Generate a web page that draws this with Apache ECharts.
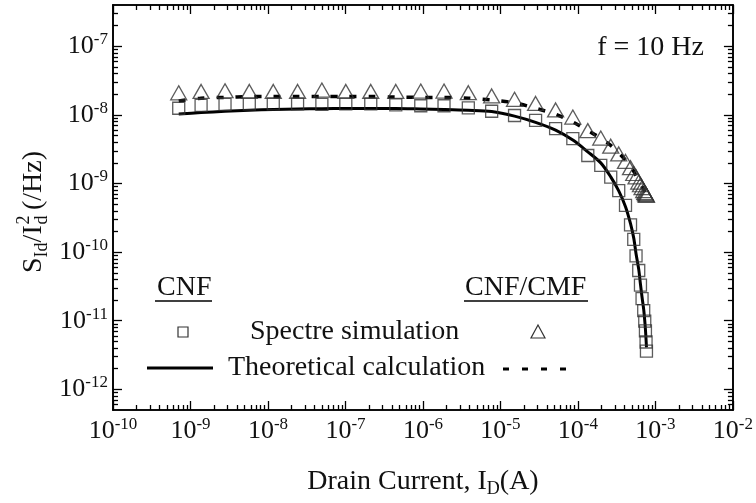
<!DOCTYPE html>
<html>
<head>
<meta charset="utf-8">
<script src="https://cdn.jsdelivr.net/npm/echarts@6/dist/echarts.min.js"></script>
<style>
html,body{margin:0;padding:0;background:#fff;}
#chart{width:756px;height:503px;}
</style>
</head>
<body>
<div id="chart"></div>
<script>
// ---- data ----
const drainCurrent = [7.05e-10, 1.37e-9, 2.79e-9, 5.74e-9, 1.17e-8, 2.41e-8, 4.96e-8, 1.01e-7, 2.12e-7, 4.46e-7,
  9.37e-7, 1.87e-6, 3.85e-6, 7.70e-6, 1.52e-5, 2.84e-5, 5.15e-5, 8.59e-5, 1.34e-4, 1.97e-4,
  2.65e-4, 3.36e-4, 4.11e-4, 4.77e-4, 5.25e-4, 5.62e-4, 6.09e-4, 6.41e-4, 6.72e-4, 7.06e-4,
  7.28e-4, 7.43e-4, 7.57e-4, 7.66e-4];
const cnfSpectre = [1.25e-8, 1.38e-8, 1.42e-8, 1.45e-8, 1.45e-8, 1.45e-8, 1.42e-8, 1.45e-8, 1.45e-8, 1.4e-8,
  1.36e-8, 1.36e-8, 1.27e-8, 1.13e-8, 9.8e-9, 8.3e-9, 6.3e-9, 4.5e-9, 2.56e-9, 1.84e-9,
  1.24e-9, 7.9e-10, 4.8e-10, 2.5e-10, 1.53e-10, 8.8e-11, 5.4e-11, 3.3e-11, 2.1e-11, 1.4e-11,
  9.9e-12, 7.1e-12, 4.9e-12, 3.6e-12];
const cnfTheory = [1.03e-8, 1.08e-8, 1.13e-8, 1.17e-8, 1.2e-8, 1.22e-8, 1.23e-8, 1.24e-8, 1.24e-8, 1.24e-8,
  1.22e-8, 1.2e-8, 1.17e-8, 1.12e-8, 9.6e-9, 7.8e-9, 6.0e-9, 4.3e-9, 2.9e-9, 2.0e-9,
  1.25e-9, 7.8e-10, 4.6e-10, 2.6e-10, 1.6e-10, 9.5e-11, 5.6e-11, 3.4e-11, 2.2e-11, 1.45e-11,
  1.0e-11, 7.5e-12, 5.3e-12, 4.1e-12];
const cmfSpectre = [2.1e-8, 2.2e-8, 2.25e-8, 2.2e-8, 2.2e-8, 2.2e-8, 2.3e-8, 2.2e-8, 2.2e-8, 2.2e-8,
  2.23e-8, 2.23e-8, 2.11e-8, 1.89e-8, 1.69e-8, 1.47e-8, 1.18e-8, 9.3e-9, 5.9e-9, 4.6e-9,
  3.5e-9, 2.7e-9, 2.1e-9, 1.7e-9, 1.4e-9, 1.25e-9, 1.05e-9, 9.6e-10, 8.7e-10, 7.9e-10,
  7.4e-10, 7.1e-10, 6.9e-10, 6.7e-10];
const cmfTheory = [1.6e-8, 1.75e-8, 1.8e-8, 1.85e-8, 1.85e-8, 1.85e-8, 1.85e-8, 1.85e-8, 1.85e-8, 1.82e-8,
  1.8e-8, 1.8e-8, 1.75e-8, 1.65e-8, 1.5e-8, 1.25e-8, 1.02e-8, 7.9e-9, 5.9e-9, 4.6e-9,
  3.6e-9, 2.8e-9, 2.2e-9, 1.8e-9, 1.5e-9, 1.3e-9, 1.1e-9, 1.0e-9, 9e-10, 8.2e-10,
  7.7e-10, 7.4e-10, 7.2e-10, 7.0e-10];
const xTickExponents = [-10, -9, -8, -7, -6, -5, -4, -3, -2];
const yTickExponents = [-12, -11, -10, -9, -8, -7];
const xRange = [1e-10, 1e-2];
const yRange = [5e-13, 4e-7];

// ---- helpers ----
const FONT = 'Liberation Serif';
const INK = '#111';
function majors(exps){ return exps.map(e => Math.pow(10, e)); }
function minors(lo, hi){
  const out = [];
  for (let d = Math.floor(Math.log10(lo)) ; d <= Math.ceil(Math.log10(hi)); d++){
    for (let m = 2; m <= 9; m++){
      const v = m * Math.pow(10, d);
      if (v > lo && v < hi) out.push(v);
    }
  }
  return out;
}
const xMaj = majors(xTickExponents), yMaj = majors(yTickExponents);
const xMin = minors(xRange[0], xRange[1]), yMin = minors(yRange[0], yRange[1]);
const labelRich = {
  b: {fontFamily: FONT, fontSize: 26, color: INK, lineHeight: 30},
  s: {fontFamily: FONT, fontSize: 17, color: INK, lineHeight: 14, verticalAlign: 'top'}
};
function powLabel(v){ return '{b|10}{s|' + Math.round(Math.log10(v)) + '}'; }
const axisLine = {show: true, onZero: false, lineStyle: {color: '#000', width: 1.6}};

function xAx(pos, major){
  return {
    type: 'log', logBase: 10, min: xRange[0], max: xRange[1], position: pos,
    axisLine: axisLine,
    splitLine: {show: false},
    axisTick: {show: true, inside: true, length: major ? 9 : 5, customValues: major ? xMaj : xMin,
      lineStyle: {color: '#000', width: 1.3}},
    axisLabel: (major && pos === 'bottom') ? {show: true, customValues: xMaj, formatter: powLabel, rich: labelRich, margin: 6}
                                         : {show: false}
  };
}
function yAx(pos, major){
  return {
    type: 'log', logBase: 10, min: yRange[0], max: yRange[1], position: pos,
    axisLine: axisLine,
    splitLine: {show: false},
    axisTick: {show: true, inside: true, length: major ? 9 : 5, customValues: major ? yMaj : yMin,
      lineStyle: {color: '#000', width: 1.3}},
    axisLabel: (major && pos === 'left') ? {show: true, customValues: yMaj, formatter: powLabel, rich: labelRich, margin: 5}
                                        : {show: false}
  };
}
function pairs(ys){ return drainCurrent.map((x, i) => [x, ys[i]]); }

const chart = echarts.init(document.getElementById('chart'), null, {renderer: 'canvas'});
const titleParts = [
  {t: 'S', x: 0, y: 0, f: 28},
  {t: 'Id', x: 15.6, y: 8, f: 18},
  {t: '/I', x: 30.6, y: 0, f: 28},
  {t: '2', x: 48.5, y: -10, f: 18},
  {t: 'd', x: 48.5, y: 8, f: 18},
  {t: '(/Hz)', x: 63, y: 0, f: 28}
];
const option = {
  backgroundColor: '#fff',
  animation: false,
  grid: {left: 113, right: 22, top: 5, bottom: 84},
  xAxis: [
    Object.assign(xAx('bottom', true), {
      name: '{t|Drain Current, I}{u|D}{t|(A)}', nameLocation: 'middle', nameGap: 56,
      nameTextStyle: {rich: {
        t: {fontFamily: FONT, fontSize: 28, color: INK, lineHeight: 32},
        u: {fontFamily: FONT, fontSize: 18, color: INK, lineHeight: 8, verticalAlign: 'bottom'}
      }}
    }),
    xAx('bottom', false), xAx('top', true), xAx('top', false)
  ],
  yAxis: [yAx('left', true), yAx('left', false), yAx('right', true), yAx('right', false)],
  series: [
    {type: 'line', name: 'CNF theory', data: pairs(cnfTheory), showSymbol: false, smooth: 0.3,
      lineStyle: {color: '#000', width: 3}, z: 2},
    {type: 'line', name: 'CNF/CMF theory', data: pairs(cmfTheory), showSymbol: false, smooth: 0.3,
      lineStyle: {color: '#000', width: 3.5, type: [7, 12]}, z: 2},
    {type: 'scatter', name: 'CNF Spectre', data: pairs(cnfSpectre), symbol: 'rect', symbolSize: 12,
      itemStyle: {color: 'rgba(0,0,0,0)', borderColor: '#333', borderWidth: 1.3}, z: 3},
    {type: 'scatter', name: 'CNF/CMF Spectre', data: pairs(cmfSpectre), symbol: 'triangle', symbolSize: [16, 14],
      itemStyle: {color: 'rgba(0,0,0,0)', borderColor: '#333', borderWidth: 1.3}, z: 3}
  ],
  graphic: [
    {type: 'group', x: 34, y: 273, rotation: Math.PI / 2,
      children: titleParts.map(p => ({type: 'text', x: p.x, y: p.y,
        style: {text: p.t, font: p.f + 'px "' + FONT + '"', fill: INK, textAlign: 'left', textVerticalAlign: 'middle'}}))},
    {type: 'text', x: 704, y: 48, style: {text: 'f = 10 Hz', font: '28px "' + FONT + '"', fill: INK, textAlign: 'right', textVerticalAlign: 'middle'}},
    // legend block
    {type: 'text', x: 157, y: 288, style: {text: 'CNF', font: '28px "' + FONT + '"', fill: INK, textAlign: 'left', textVerticalAlign: 'middle'}},
    {type: 'line', shape: {x1: 155, y1: 301, x2: 212, y2: 301}, style: {stroke: '#000', lineWidth: 1.6}},
    {type: 'text', x: 465, y: 288, style: {text: 'CNF/CMF', font: '28px "' + FONT + '"', fill: INK, textAlign: 'left', textVerticalAlign: 'middle'}},
    {type: 'line', shape: {x1: 464, y1: 301, x2: 588, y2: 301}, style: {stroke: '#000', lineWidth: 1.6}},
    {type: 'rect', shape: {x: 178, y: 327, width: 10, height: 10}, style: {fill: 'none', stroke: '#333', lineWidth: 1.2}},
    {type: 'text', x: 250, y: 332, style: {text: 'Spectre simulation', font: '28px "' + FONT + '"', fill: INK, textAlign: 'left', textVerticalAlign: 'middle'}},
    {type: 'polygon', shape: {points: [[538, 325], [545, 338], [531, 338]]}, style: {fill: 'none', stroke: '#333', lineWidth: 1.2}},
    {type: 'line', shape: {x1: 147, y1: 368, x2: 213, y2: 368}, style: {stroke: '#000', lineWidth: 3}},
    {type: 'text', x: 228, y: 368, style: {text: 'Theoretical calculation', font: '28px "' + FONT + '"', fill: INK, textAlign: 'left', textVerticalAlign: 'middle'}},
    {type: 'line', shape: {x1: 503, y1: 369, x2: 570, y2: 369}, style: {stroke: '#000', lineWidth: 3, lineDash: [6, 13]}}
  ]
};
chart.setOption(option);
</script>
</body>
</html>
